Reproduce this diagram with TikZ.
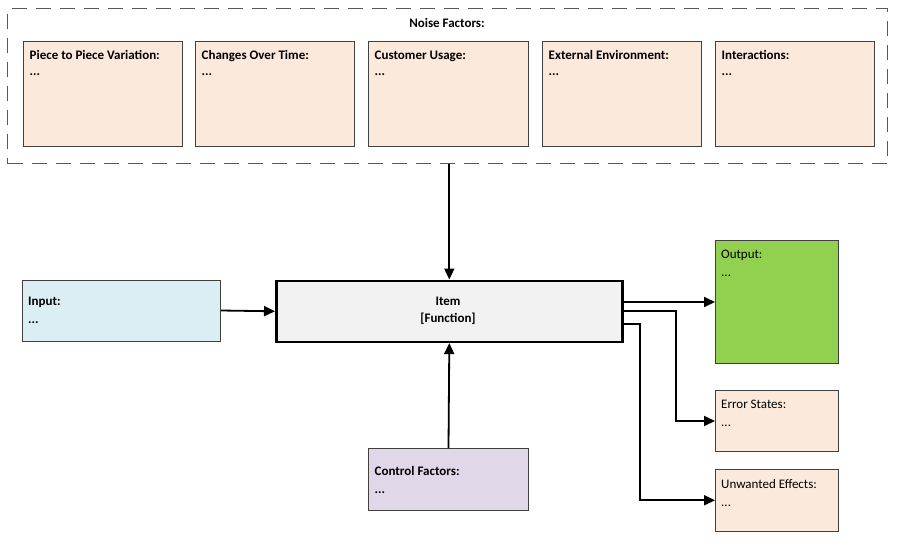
\documentclass[tikz,border=0pt]{standalone}
\usepackage{fontspec}
\setmainfont{Carlito}
\usetikzlibrary{arrows.meta}
\definecolor{peach}{HTML}{FBE9DC}
\definecolor{lblue}{HTML}{DBEEF3}
\definecolor{lav}{HTML}{E0D8E8}
\definecolor{grn}{HTML}{92D050}
\definecolor{itemfill}{HTML}{F2F2F2}
\definecolor{bordc}{HTML}{404040}
\definecolor{dashc}{HTML}{595959}
\tikzset{
  boxst/.style={draw=bordc, line width=1pt, rectangle, inner sep=0pt, anchor=north west},
  tb/.style={anchor=base west, inner sep=0pt, font=\fontsize{13}{15}\selectfont\bfseries},
  tr/.style={anchor=base west, inner sep=0pt, font=\fontsize{13}{15}\selectfont},
  conn/.style={line width=1.8pt, -{Triangle[length=11pt,width=10pt]}},
}
\newcommand{\mybox}[6]{\node[boxst,#6,minimum width=#4pt-#2pt,minimum height=#5pt-#3pt] (#1) at (#2,#3) {};}
\begin{document}
\begin{tikzpicture}[x=1pt,y=-1pt]
\useasboundingbox (0,0) rectangle (900,547);
% noise container
\node[draw=dashc, line width=1pt, dash pattern=on 15pt off 9pt, rectangle, inner sep=0pt,
      anchor=north west, minimum width=880pt, minimum height=155pt] (noise) at (7,8) {};
\node[anchor=base, inner sep=0pt, font=\fontsize{13}{15}\selectfont\bfseries] (noiset) at (447,27) {Noise Factors:};
% noise boxes
\mybox{n1}{23}{41}{182}{146}{fill=peach}
\mybox{n2}{195}{41}{354}{146}{fill=peach}
\mybox{n3}{368}{41}{528}{146}{fill=peach}
\mybox{n4}{542}{41}{701}{146}{fill=peach}
\mybox{n5}{715}{41}{874}{146}{fill=peach}
\node[tb] (n1t) at (29.5,59) {Piece to Piece Variation:};
\node[tb] (n1d) at (29.5,75) {...};
\node[tb] (n2t) at (201.5,59) {Changes Over Time:};
\node[tb] (n2d) at (201.5,75) {...};
\node[tb] (n3t) at (374.5,59) {Customer Usage:};
\node[tb] (n3d) at (374.5,75) {...};
\node[tb] (n4t) at (548.5,59) {External Environment:};
\node[tb] (n4d) at (548.5,75) {...};
\node[tb] (n5t) at (721.5,59) {Interactions:};
\node[tb] (n5d) at (721.5,75) {...};
% item
\node[draw=black, line width=2.6pt, fill=itemfill, rectangle, inner sep=0pt, anchor=north west,
      minimum width=346pt, minimum height=61pt] (item) at (275,279.5) {};
\node[anchor=base, inner sep=0pt, font=\fontsize{13}{15}\selectfont\bfseries] (itemt) at (448,305) {Item};
\node[anchor=base, inner sep=0pt, font=\fontsize{13}{15}\selectfont\bfseries] (itemf) at (448,322.5) {[Function]};
% input
\mybox{inp}{22}{279.5}{220}{340.5}{fill=lblue}
\node[tb] (inpt) at (28,305) {Input:};
\node[tb] (inpd) at (28,323.5) {...};
% control
\mybox{ctrl}{368}{448}{528}{510}{fill=lav}
\node[tb] (ctrlt) at (374.5,475) {Control Factors:};
\node[tb] (ctrld) at (374.5,493.5) {...};
% outputs
\mybox{out}{715}{240}{838}{363}{fill=grn}
\node[tr] (outt) at (721,258) {Output:};
\node[tr] (outd) at (721,276) {...};
\mybox{err}{715}{390}{838}{451}{fill=peach}
\node[tr] (errt) at (721,408.5) {Error States:};
\node[tr] (errd) at (721,426.5) {...};
\mybox{unw}{715}{469}{838}{530.5}{fill=peach}
\node[tr] (unwt) at (721,488.5) {Unwanted Effects:};
\node[tr] (unwd) at (721,506.5) {...};
% connectors
\coordinate (c2) at (676,0);
\coordinate (c3) at (640,0);
\coordinate (e3) at ([yshift=-12.7pt]item.east);
\draw[conn] (noise.south -| item.north) -- (item.north);
\draw[conn] (inp.east) -- (item.west);
\draw[conn] (ctrl.north) -- (item.south);
\draw[conn] (item.east |- out.west) -- (out.west);
\draw[conn] (item.east) -- (item.east -| c2) |- (err.west);
\draw[conn] (e3) -- (e3 -| c3) |- (unw.west);
\end{tikzpicture}
\end{document}
